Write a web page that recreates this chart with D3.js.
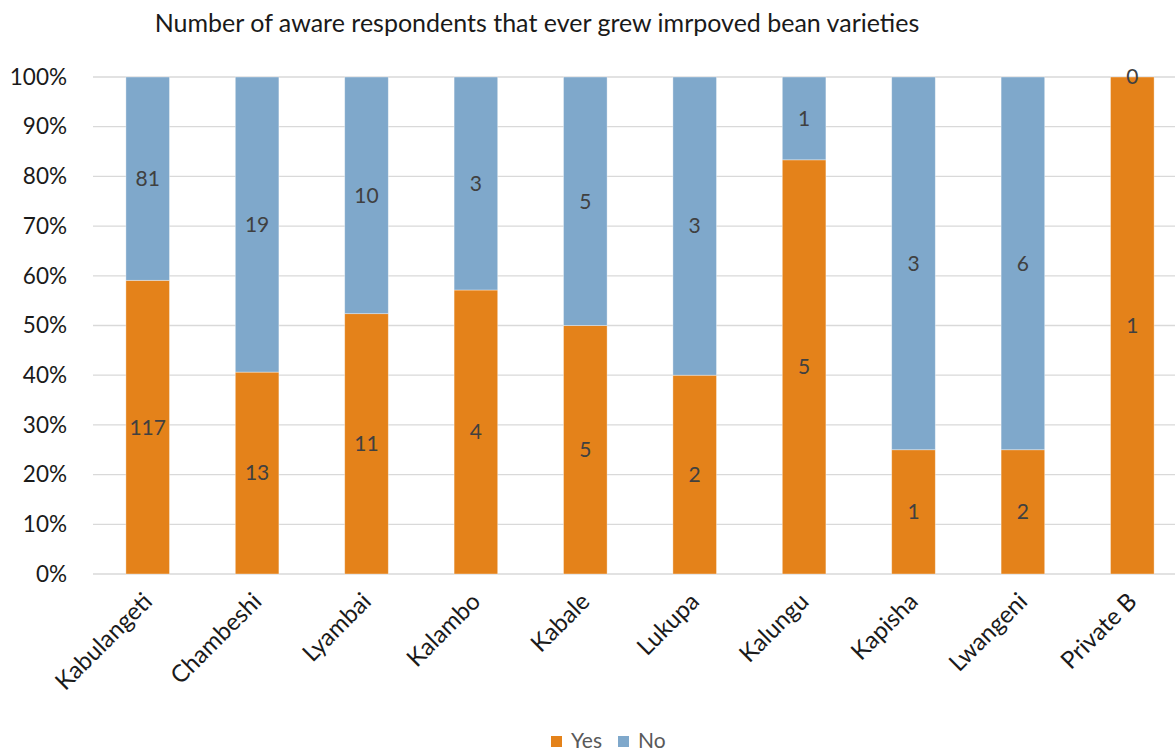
<!DOCTYPE html>
<html>
<head>
<meta charset="utf-8">
<script src="https://cdn.jsdelivr.net/npm/d3@7"></script>
<style>
  html, body { margin: 0; padding: 0; background: #fff; }
  svg { display: block; font-family: Lato, "Open Sans", sans-serif; }
</style>
</head>
<body>
<svg id="chart" width="1175" height="753"></svg>
<script>
// Respondents aware of improved bean varieties, by camp
const categories = ["Kabulangeti", "Chambeshi", "Lyambai", "Kalambo", "Kabale", "Lukupa", "Kalungu", "Kapisha", "Lwangeni", "Private B"];
const yesCounts = [117, 13, 11, 4, 5, 2, 5, 1, 2, 1];
const noCounts  = [81, 19, 10, 3, 5, 3, 1, 3, 6, 0];
const seriesNames = ["Yes", "No"];
const yTicks = [0, 0.1, 0.2, 0.3, 0.4, 0.5, 0.6, 0.7, 0.8, 0.9, 1.0];
const titleText = "Number of aware respondents that ever grew imrpoved bean varieties";

const colors = { Yes: "#E4821A", No: "#7FA8CB" };

const svg = d3.select("#chart");
const W = 1175, H = 753;
const plot = { left: 93, right: 1187, top: 77, bottom: 574 };

const rows = categories.map((c, i) => {
  const total = yesCounts[i] + noCounts[i];
  return { cat: c, Yes: yesCounts[i], No: noCounts[i], total };
});

const x = d3.scaleBand().domain(categories).range([plot.left, plot.right]).paddingInner(0.6).paddingOuter(0.3);
const y = d3.scaleLinear().domain([0, 1]).range([plot.bottom, plot.top]);

// horizontal gridlines
svg.append("g").selectAll("line").data(yTicks).join("line")
  .attr("x1", plot.left).attr("x2", W)
  .attr("y1", d => y(d)).attr("y2", d => y(d))
  .attr("stroke", "#d9d9d9").attr("stroke-width", 1.3);

// y-axis tick labels
const yAxis = d3.axisLeft(y).tickValues(yTicks).tickFormat(d3.format(".0%")).tickSize(0).tickPadding(0);
const yg = svg.append("g").attr("transform", `translate(67,0)`).call(yAxis);
yg.select(".domain").remove();
yg.selectAll("text").attr("font-size", 22.5).attr("fill", "#1a1a1a").attr("font-family", "Lato, sans-serif");

// stacked, normalised to 100%
const stack = d3.stack().keys(seriesNames)
  .value((d, k) => d.total ? d[k] / d.total : 0);
const layers = stack(rows);

const bw = 43.6;
const layerG = svg.append("g").selectAll("g").data(layers).join("g")
  .attr("fill", d => colors[d.key]);

layerG.selectAll("rect").data(d => d.map(v => ({ v, key: d.key }))).join("rect")
  .attr("x", d => x(d.v.data.cat) + x.bandwidth() / 2 - bw / 2)
  .attr("width", bw)
  .attr("y", d => y(d.v[1]))
  .attr("height", d => y(d.v[0]) - y(d.v[1]))
  .attr("stroke", "#ffffff").attr("stroke-opacity", 0.45).attr("stroke-width", 0.8);

// value labels centred in each segment
const labG = svg.append("g").attr("font-size", 21).attr("fill", "#404040").attr("text-anchor", "middle");
layers.forEach(layer => {
  layer.forEach(v => {
    const mid = (v[0] + v[1]) / 2;
    labG.append("text")
      .attr("x", x(v.data.cat) + x.bandwidth() / 2)
      .attr("y", y(mid))
      .attr("dy", "0.35em")
      .text(v.data[layer.key]);
  });
});

// category labels, rotated
const xg = svg.append("g");
categories.forEach(c => {
  const cx = x(c) + x.bandwidth() / 2;
  xg.append("text")
    .attr("transform", `translate(${cx + 6},${603}) rotate(-45)`)
    .attr("text-anchor", "end")
    .attr("font-size", 24)
    .attr("fill", "#1a1a1a")
    .text(c);
});

// title
svg.append("text")
  .attr("x", 537).attr("y", 32)
  .attr("text-anchor", "middle")
  .attr("font-size", 25)
  .attr("fill", "#1a1a1a")
  .text(titleText);

// legend
const legend = svg.append("g").attr("transform", "translate(551,0)");
const legItems = [{ k: "Yes", x: 0 }, { k: "No", x: 67 }];
legItems.forEach(it => {
  legend.append("rect").attr("x", it.x).attr("y", 736).attr("width", 11).attr("height", 11).attr("fill", colors[it.k]);
  legend.append("text").attr("x", it.x + 20).attr("y", 748)
    .attr("font-size", 21).attr("fill", "#595959").text(it.k);
});
</script>
</body>
</html>
